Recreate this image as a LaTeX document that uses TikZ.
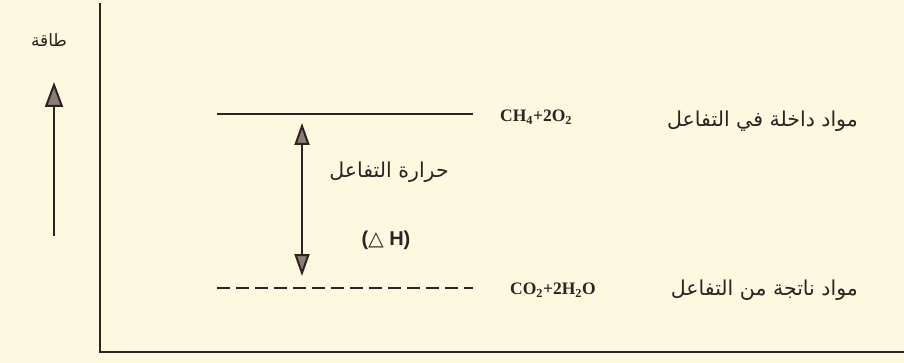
\documentclass[tikz,border=0pt]{standalone}
\usepackage{fontspec}
\usetikzlibrary{arrows.meta}
\TeXXeTstate=1
\newfontfamily\arabicfont[Script=Arabic]{DejaVu Sans}
\setmainfont{Liberation Serif}
\setsansfont{Liberation Sans}
\definecolor{paper}{HTML}{FDF8E0}
\definecolor{ink}{HTML}{2A2422}
\definecolor{tipfill}{HTML}{8C7C74}
\tikzset{
  ar/.style={font=\arabicfont\fontsize{20.5}{24}\selectfont, text=ink, inner sep=0pt},
  chem/.style={font=\bfseries\fontsize{17.5}{20}\selectfont, text=ink, inner sep=0pt},
  axis/.style={draw=ink, line width=2.5pt},
  level/.style={draw=ink, line width=2pt},
  bigtip/.style={-{Triangle[width=18pt,length=25pt,fill=tipfill]}, draw=ink, line width=2pt},
  dbltip/.style={{Triangle[width=15pt,length=22pt,fill=tipfill]}-{Triangle[width=15pt,length=22pt,fill=tipfill]}, draw=ink, line width=2pt}
}
\begin{document}
\begin{tikzpicture}[x=1pt,y=-1pt]
\fill[paper] (0,0) rectangle (904,363);
\useasboundingbox (0,0) rectangle (904,363);
% axes
\coordinate (top) at (100,3);
\coordinate (origin) at (100,352);
\coordinate (right) at (904,352);
\draw[axis] (top) -- (origin) -- (right);
% energy arrow
\coordinate (ea) at (54,236);
\coordinate (eb) at (54,82);
\draw[bigtip] (ea) -- (eb);
\node[ar, font=\arabicfont\fontsize{17}{20}\selectfont] (energy) at (49,40) {\beginR طاقة\endR};
% levels
\coordinate (r1) at (217,114);
\coordinate (r2) at (473,114);
\coordinate (p1) at (217,288);
\coordinate (p2) at (473,288);
\draw[level] (r1) -- (r2);
\draw[level, dash pattern=on 13pt off 6pt] (p1) -- (p2);
% delta H arrow
\coordinate (da) at (302,123);
\coordinate (db) at (302,276);
\draw[dbltip] (da) -- (db);
\node[ar] (heat) at (389,172) {\beginR حرارة التفاعل\endR};
\node[font=\sffamily\bfseries\fontsize{20}{24}\selectfont, text=ink, inner sep=0pt] (dh) at (386,240) {({\fontspec{DejaVu Sans}\mdseries △} H)};
% labels
\node[chem, anchor=west] (react) at (500,117) {CH\textsubscript{4}+2O\textsubscript{2}};
\node[chem, anchor=west] (prod) at (510,290) {CO\textsubscript{2}+2H\textsubscript{2}O};
\node[ar, anchor=east] (reactlbl) at (858,121) {\beginR مواد داخلة في التفاعل\endR};
\node[ar, anchor=east] (prodlbl) at (858,290) {\beginR مواد ناتجة من التفاعل\endR};
\end{tikzpicture}
\end{document}
